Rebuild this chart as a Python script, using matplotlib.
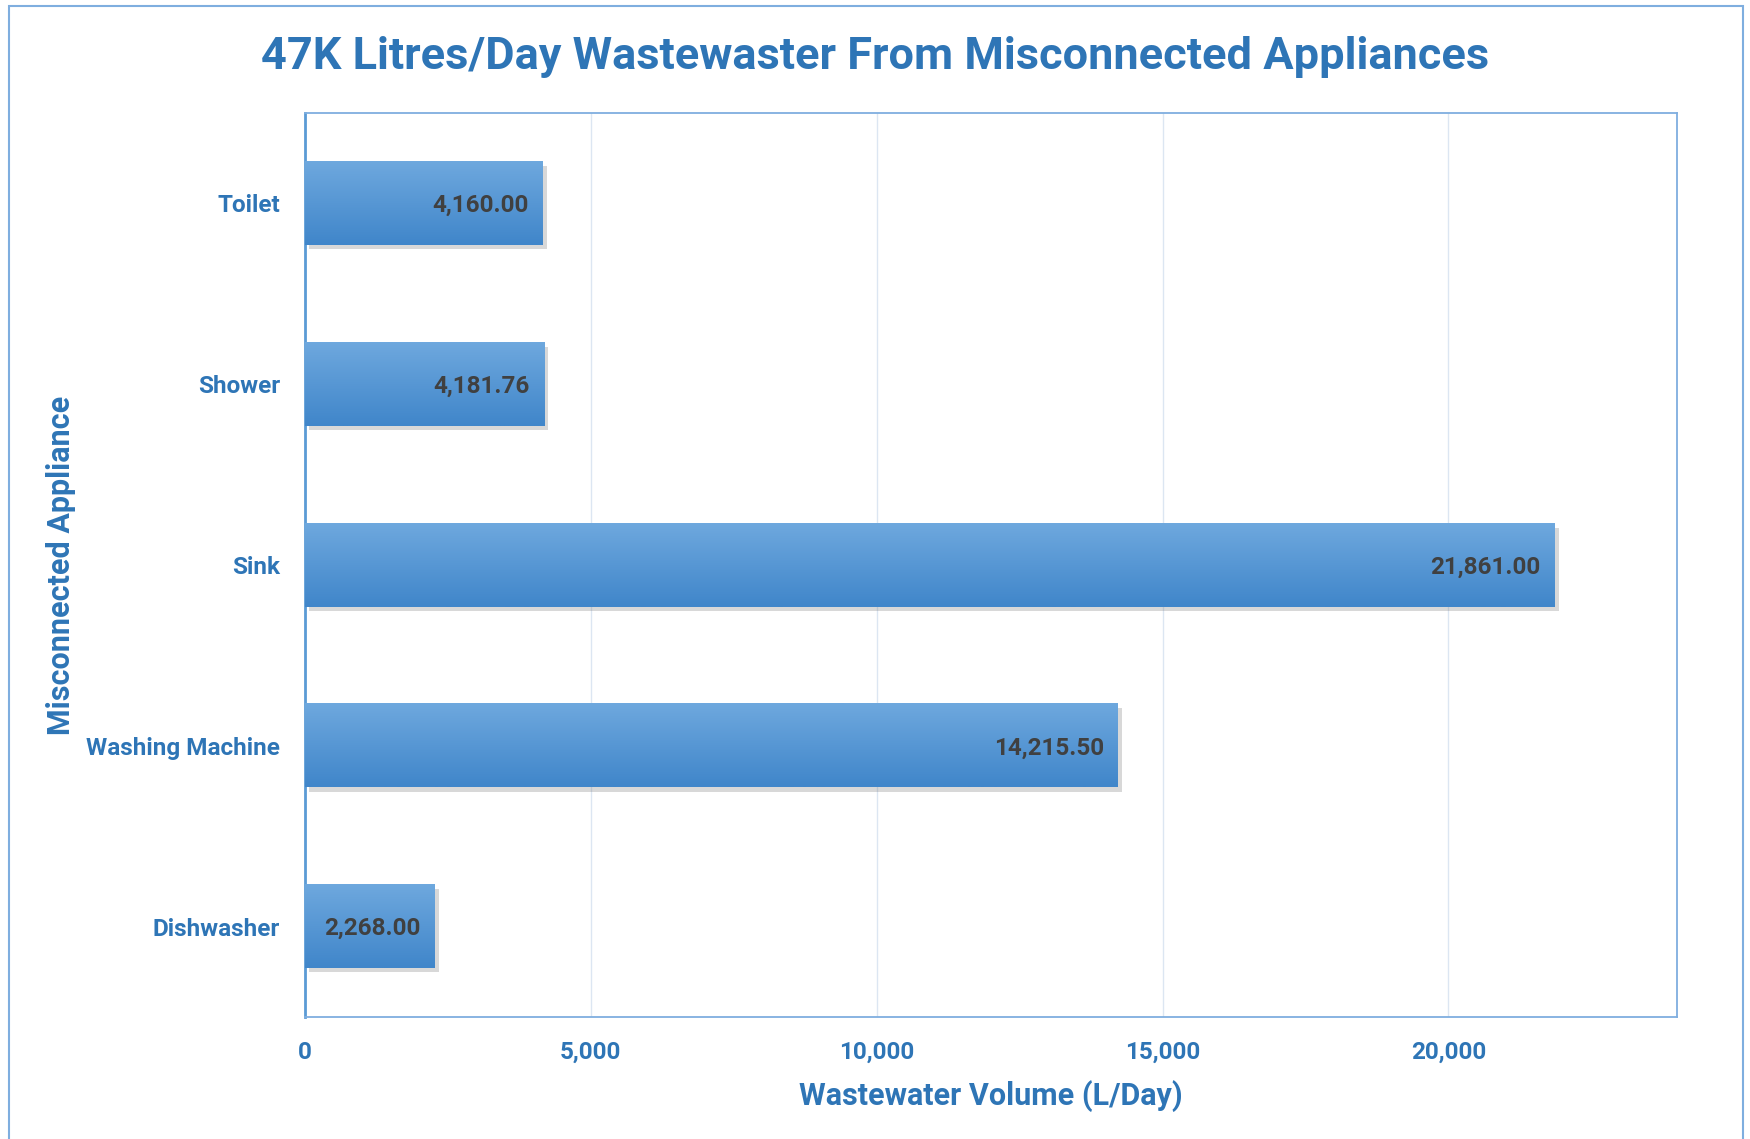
import numpy as np
import matplotlib
matplotlib.use("Agg")
import matplotlib.pyplot as plt
import matplotlib.patheffects as pe
from matplotlib.patches import Rectangle
from matplotlib.ticker import FuncFormatter

appliances = ["Toilet", "Shower", "Sink", "Washing Machine", "Dishwasher"]
volumes = [4160.00, 4181.76, 21861.00, 14215.50, 2268.00]
x_ticks = [0, 5000, 10000, 15000, 20000]

blue_text = "#2E75B6"
frame_blue = "#7FAEDF"

plt.rcParams['font.family'] = ['Roboto', 'DejaVu Sans']

fig = plt.figure(figsize=(17.5, 11.39), dpi=100)
ax = fig.add_axes([0.1743, 0.1071, 0.784, 0.7937])

# outer chart border
fig.patches.append(Rectangle((0.005, -0.01), 0.991, 1.005, transform=fig.transFigure,
                             fill=False, edgecolor=frame_blue, linewidth=1.5))

y = np.arange(len(appliances))
h = 0.46
bars = ax.barh(y, volumes, height=h, color="#5599DB", zorder=2)
for b in bars:
    b.set_path_effects([pe.SimplePatchShadow(offset=(3, -3), shadow_rgbFace="#666666", alpha=0.25),
                        pe.Normal()])

# vertical gradient on each bar
grad = np.linspace(0, 1, 64).reshape(-1, 1)
top_c = np.array([0x6E, 0xA8, 0xDE]) / 255
bot_c = np.array([0x40, 0x86, 0xCA]) / 255
img = (top_c[None, None, :] * (1 - grad[:, :, None]) + bot_c[None, None, :] * grad[:, :, None])
for yi, v in zip(y, volumes):
    ax.imshow(img, extent=(0, v, yi + h / 2, yi - h / 2), aspect='auto', zorder=3,
              interpolation='bilinear')

for yi, v in zip(y, volumes):
    ax.annotate(f"{v:,.2f}", xy=(v, yi), xytext=(-10, -1.5), textcoords='offset points',
                ha='right', va='center', fontsize=17.5, fontweight='bold',
                color="#404040", zorder=4)

ax.set_xlim(0, 24000)
ax.set_ylim(len(appliances) - 0.5, -0.5)
ax.set_xticks(x_ticks)
ax.xaxis.set_major_formatter(FuncFormatter(lambda v, p: f"{int(v):,}"))
ax.set_yticks(y)
ax.set_yticklabels(appliances)
ax.tick_params(axis='both', length=0, labelsize=17.5, labelcolor=blue_text)
ax.tick_params(axis='x', pad=17)
ax.tick_params(axis='y', pad=18)
for lbl in ax.get_xticklabels() + ax.get_yticklabels():
    lbl.set_fontweight('bold')

ax.grid(axis='x', color="#DCE6F2", linewidth=1, zorder=0)
ax.set_axisbelow(True)
for s in ax.spines.values():
    s.set_color(frame_blue)
    s.set_linewidth(1.3)
ax.spines['left'].set_color("#5B9BD5")
ax.spines['left'].set_linewidth(2)

ax.set_xlabel("Wastewater Volume (L/Day)", fontsize=22, fontweight='bold',
              color=blue_text, labelpad=12)
ax.set_ylabel("Misconnected Appliance", fontsize=22, fontweight='bold',
              color=blue_text)
ax.yaxis.set_label_coords(-0.167, 0.5)

fig.text(0.5, 0.950, "47K Litres/Day Wastewaster From Misconnected Appliances",
         ha='center', va='center', fontsize=32.5, fontweight='bold', color=blue_text)

fig.savefig("out.png", dpi=100)
